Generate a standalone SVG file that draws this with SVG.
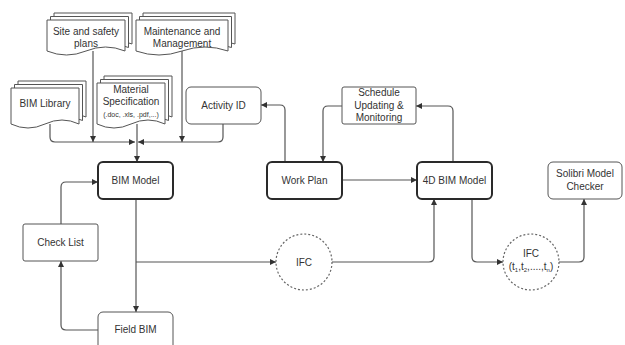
<svg xmlns="http://www.w3.org/2000/svg" width="625" height="345" viewBox="0 0 625 345">
  <style>
    .doc { fill: #ffffff; stroke: #555555; stroke-width: 1; }
    .box { fill: #ffffff; stroke: #555555; stroke-width: 1; }
    .bold { fill: #ffffff; stroke: #2a2a2a; stroke-width: 2; }
    .ifc { fill: #ffffff; stroke: #666666; stroke-width: 1.2; stroke-dasharray: 2 2; }
    .lbl { font-family: "Liberation Sans", Arial, sans-serif; font-size: 10px; fill: #333333; text-anchor: middle; }
    .small { font-size: 7px; }
    .wire { fill: none; stroke: #555555; stroke-width: 1.2; }
  </style>
  <defs>
    <marker id="arrow" markerUnits="userSpaceOnUse" markerWidth="6" markerHeight="6" refX="6" refY="3" orient="auto">
      <path d="M0,0 L6,3 L0,6 z" fill="#333333"/>
    </marker>
  </defs>

  <rect width="625" height="345" fill="#ffffff"/>

  <!-- connectors -->
  <g id="connectors" class="wire" marker-end="url(#arrow)">
    <path d="M50,124 V137 Q50,142 55,142 H135"/>
    <path d="M93,51 V142"/>
    <path d="M182,51 V142"/>
    <path d="M223,124 V137 Q223,142 218,142 H138"/>
    <path d="M137,124 V162"/>
    <path d="M136,199 V312"/>
    <path d="M136,262 H276"/>
    <path d="M332,262 H429 Q434,262 434,257 V199"/>
    <path d="M342,180 H417"/>
    <path d="M285,162 V110 Q285,105 280,105 H261"/>
    <path d="M342,106 H328 Q323,106 323,111 V162"/>
    <path d="M453,162 V111 Q453,106 448,106 H416"/>
    <path d="M472,199 V257 Q472,262 477,262 H503"/>
    <path d="M559,262 H579 Q584,262 584,257 V199"/>
    <path d="M61,224 V187 Q61,182 66,182 H98"/>
    <path d="M98,330 H66 Q61,330 61,325 V261"/>
  </g>

  <!-- document stacks -->
  <g id="site-safety-plans">
    <path class="doc" d="M54,13 H132 V44 Q112.5,36 93,44 Q73.5,52 54,44 Z"/>
    <path class="doc" d="M50.5,16.5 H128.5 V47.5 Q109,39.5 89.5,47.5 Q70,55.5 50.5,47.5 Z"/>
    <path class="doc" d="M47,20 H125 V51 Q105.5,43 86,51 Q66.5,59 47,51 Z"/>
    <text class="lbl" x="86" y="35">Site and safety</text>
    <text class="lbl" x="86" y="47">plans</text>
  </g>

  <g id="maintenance-management">
    <path class="doc" d="M143,13 H235 V44 Q212,36 189,44 Q166,52 143,44 Z"/>
    <path class="doc" d="M139.5,16.5 H231.5 V47.5 Q208.5,39.5 185.5,47.5 Q162.5,55.5 139.5,47.5 Z"/>
    <path class="doc" d="M136,20 H228 V51 Q205,43 182,51 Q159,59 136,51 Z"/>
    <text class="lbl" x="182" y="35">Maintenance and</text>
    <text class="lbl" x="182" y="47">Management</text>
  </g>

  <g id="bim-library">
    <path class="doc" d="M18,81 H86 V117 Q69,109 52,117 Q35,125 18,117 Z"/>
    <path class="doc" d="M14.5,84.5 H82.5 V120.5 Q65.5,112.5 48.5,120.5 Q31.5,128.5 14.5,120.5 Z"/>
    <path class="doc" d="M11,88 H79 V124 Q62,116 45,124 Q28,132 11,124 Z"/>
    <text class="lbl" x="45" y="107">BIM Library</text>
  </g>

  <g id="material-specification">
    <path class="doc" d="M104,76 H172 V117 Q155,109 138,117 Q121,125 104,117 Z"/>
    <path class="doc" d="M100.5,79.5 H168.5 V120.5 Q151.5,112.5 134.5,120.5 Q117.5,128.5 100.5,120.5 Z"/>
    <path class="doc" d="M97,83 H165 V124 Q148,116 131,124 Q114,132 97,124 Z"/>
    <text class="lbl" x="131" y="93">Material</text>
    <text class="lbl" x="131" y="105">Specification</text>
    <text class="lbl small" x="131" y="117">(.doc, .xls, .pdf,...)</text>
  </g>

  <!-- process boxes -->
  <g id="activity-id">
    <rect class="box" x="186" y="87" width="75" height="37" rx="5"/>
    <text class="lbl" x="223.5" y="109">Activity ID</text>
  </g>

  <g id="schedule-updating">
    <rect class="box" x="342" y="87" width="74" height="37" rx="2"/>
    <text class="lbl" x="379" y="96">Schedule</text>
    <text class="lbl" x="379" y="108.5">Updating &amp;</text>
    <text class="lbl" x="379" y="121">Monitoring</text>
  </g>

  <g id="bim-model">
    <rect class="bold" x="98" y="162" width="75" height="37" rx="5"/>
    <text class="lbl" x="135.5" y="184">BIM Model</text>
  </g>

  <g id="work-plan">
    <rect class="bold" x="267" y="162" width="75" height="37" rx="5"/>
    <text class="lbl" x="304.5" y="184">Work Plan</text>
  </g>

  <g id="bim-4d-model">
    <rect class="bold" x="417" y="162" width="75" height="37" rx="5"/>
    <text class="lbl" x="454.5" y="184">4D BIM Model</text>
  </g>

  <g id="solibri-checker">
    <rect class="box" x="548" y="162" width="74" height="37" rx="5"/>
    <text class="lbl" x="585" y="177">Solibri Model</text>
    <text class="lbl" x="585" y="190">Checker</text>
  </g>

  <g id="check-list">
    <rect class="box" x="23" y="224" width="75" height="37" rx="2"/>
    <text class="lbl" x="60.5" y="246">Check List</text>
  </g>

  <g id="field-bim">
    <rect class="box" x="98" y="312" width="75" height="40" rx="5"/>
    <text class="lbl" x="135.5" y="333">Field BIM</text>
  </g>

  <!-- IFC exchange files -->
  <g id="ifc">
    <circle class="ifc" cx="304" cy="262" r="28"/>
    <text class="lbl" x="304" y="265.5">IFC</text>
  </g>

  <g id="ifc-timed">
    <circle class="ifc" cx="531" cy="262" r="28"/>
    <text class="lbl" x="531" y="257">IFC</text>
    <text class="lbl" x="531" y="270" font-size="9">(t<tspan font-size="6" dy="2">1</tspan><tspan dy="-2">,t</tspan><tspan font-size="6" dy="2">2</tspan><tspan dy="-2">,....,t</tspan><tspan font-size="6" dy="2">n</tspan><tspan dy="-2">)</tspan></text>
  </g>
</svg>
